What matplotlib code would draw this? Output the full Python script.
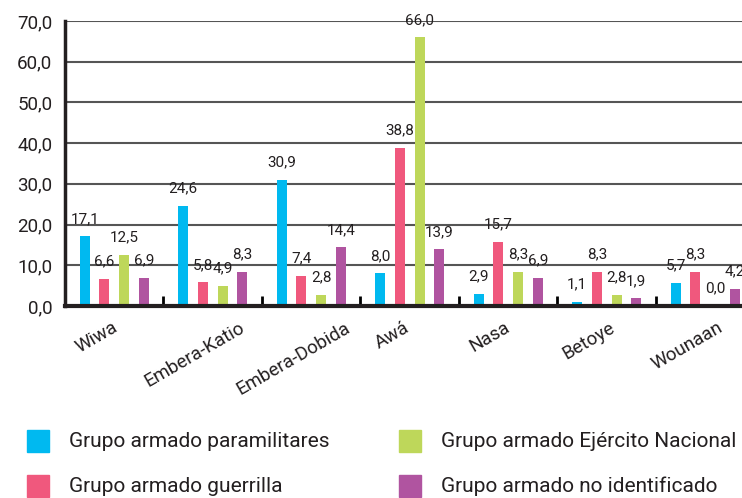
import matplotlib
matplotlib.use("Agg")
import matplotlib.pyplot as plt
from matplotlib.patches import Rectangle
from matplotlib.ticker import FixedLocator, FuncFormatter
import matplotlib.transforms as mtransforms
import numpy as np

plt.rcParams['font.family'] = ['Roboto', 'DejaVu Sans']

categories = ["Wiwa", "Embera-Katio", "Embera-Dobida", "Awá", "Nasa", "Betoye", "Wounaan"]
series_names = ["Grupo armado paramilitares", "Grupo armado guerrilla",
                "Grupo armado Ejército Nacional", "Grupo armado no identificado"]
paramilitares = [17.1, 24.6, 30.9, 8.0, 2.9, 1.1, 5.7]
guerrilla = [6.6, 5.8, 7.4, 38.8, 15.7, 8.3, 8.3]
ejercito = [12.5, 4.9, 2.8, 66.0, 8.3, 2.8, 0.0]
no_identificado = [6.9, 8.3, 14.4, 13.9, 6.9, 1.9, 4.2]
yticks = [0, 10, 20, 30, 40, 50, 60, 70]

series = [paramilitares, guerrilla, ejercito, no_identificado]
colors = ["#00B9F0", "#F0587D", "#BED75A", "#B054A0"]
txt_col = "#231F20"

W, H = 742, 498
fig = plt.figure(figsize=(W / 100, H / 100), dpi=100)
ax = fig.add_axes([65 / W, 192 / H, 689.5 / W, 285 / H])

x = np.arange(len(categories))
offsets = [-0.3, -0.1, 0.1, 0.3]
for vals, off, col in zip(series, offsets, colors):
    bars = ax.bar(x + off, vals, width=0.1, color=col, zorder=3)
    for b, v in zip(bars, vals):
        ax.annotate(f"{v:.1f}".replace(".", ","),
                    (b.get_x() + b.get_width() / 2, v),
                    xytext=(0, 7.5), textcoords="offset points",
                    ha="center", va="bottom", fontsize=11, color=txt_col,
                    annotation_clip=False, zorder=4)

ax.set_xlim(-0.5, len(categories) - 0.5)
ax.set_ylim(0, 70)
ax.set_yticks(yticks)
ax.yaxis.set_major_formatter(FuncFormatter(lambda v, p: f"{v:.1f}".replace(".", ",")))
ax.tick_params(axis="y", length=0, pad=9, labelsize=13.5, labelcolor=txt_col)

ax.set_xticks(x)
ax.set_xticklabels(categories, rotation=30, ha="center", va="top",
                   fontsize=13.5, color=txt_col)
ax.tick_params(axis="x", which="major", length=0, pad=9)
ax.xaxis.set_minor_locator(FixedLocator(x[:-1] + 0.5))
ax.tick_params(axis="x", which="minor", direction="in", length=7, width=2, color="black")
shift = mtransforms.ScaledTranslation(-18 / 100, 0, fig.dpi_scale_trans)
for lab in ax.get_xticklabels():
    lab.set_transform(lab.get_transform() + shift)

ax.grid(axis="y", color="#555555", linewidth=1.5, zorder=1)
for s in ["top", "right"]:
    ax.spines[s].set_visible(False)
ax.spines["left"].set_linewidth(2.5)
ax.spines["bottom"].set_linewidth(3)
ax.spines["left"].set_color(txt_col)
ax.spines["bottom"].set_color(txt_col)
ax.spines["bottom"].set_zorder(5)

# legend drawn manually
leg_pos = [(27, 441), (27, 486), (399, 441), (399, 486)]
for (lx, ly), name, col in zip(leg_pos, series_names, colors):
    fig.add_artist(Rectangle((lx / W, 1 - (ly + 11) / H), 22 / W, 22 / H,
                             transform=fig.transFigure, color=col))
    fig.text((lx + 42) / W, 1 - ly / H, name, fontsize=15, ha="left",
             va="center", color=txt_col)

fig.savefig("out.png", dpi=100)
